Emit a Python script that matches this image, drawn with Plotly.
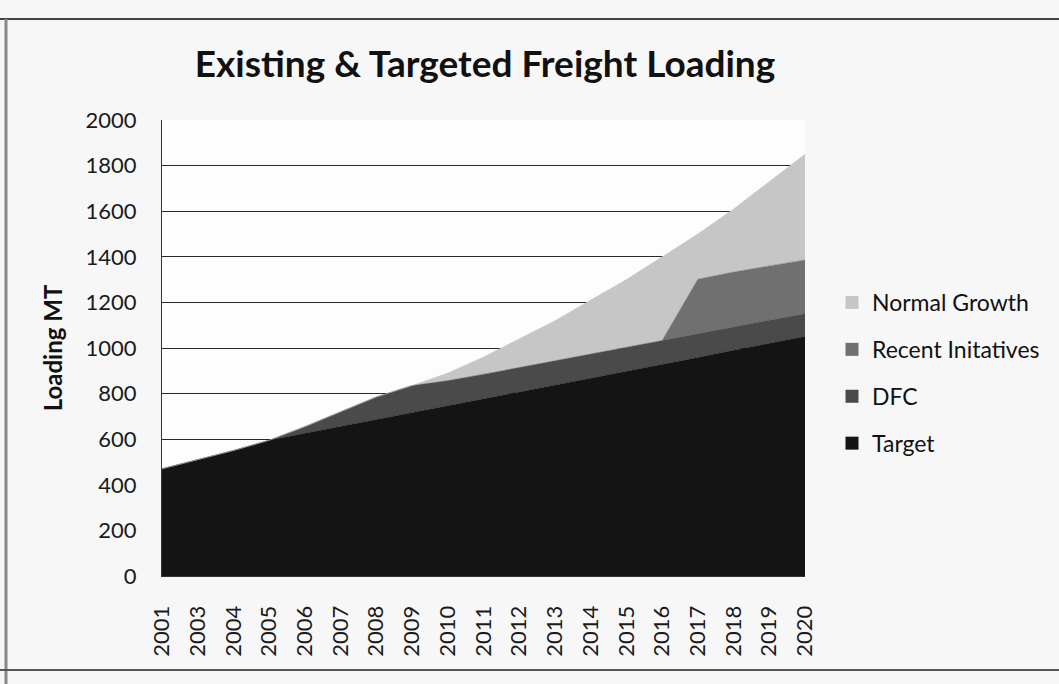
import plotly.graph_objects as go

years = ['2001', '2003', '2004', '2005', '2006', '2007', '2008', '2009', '2010',
         '2011', '2012', '2013', '2014', '2015', '2016', '2017', '2018', '2019', '2020']
target = [470, 510, 550, 595, 625, 655, 685, 715, 745, 775, 805, 838, 868, 898, 928, 958, 990, 1020, 1050]
dfc = [0, 0, 0, 0, 30, 65, 100, 120, 112, 110, 110, 108, 107, 106, 105, 104, 103, 102, 100]
recent = [0, 0, 0, 0, 0, 0, 0, 0, 0, 0, 0, 0, 0, 0, 0, 240, 240, 238, 236]
normal = [0, 0, 0, 0, 0, 0, 0, 0, 33, 75, 125, 174, 235, 296, 367, 198, 277, 370, 464]

series = [
    ('Target', target, '#141414'),
    ('DFC', dfc, '#4a4a4a'),
    ('Recent Initatives', recent, '#707070'),
    ('Normal Growth', normal, '#c6c6c6'),
]

FONT = 'Lato'
fig = go.Figure()
for name, vals, col in series:
    fig.add_trace(go.Scatter(x=years, y=vals, name=name, stackgroup='one', mode='lines',
                             line=dict(width=0.5, color=col), fillcolor=col, showlegend=False,
                             hoverinfo='x+y+name'))
for name, vals, col in reversed(series):
    fig.add_trace(go.Scatter(x=[None], y=[None], name=name, mode='markers', legendgroup=name,
                             marker=dict(symbol='square', size=13, color=col), showlegend=True))

W, H = 1059, 684
L, R, T, B = 162, 805, 120, 576
fig.update_layout(
    width=W, height=H,
    margin=dict(l=L, r=W - R, t=T, b=H - B, pad=0),
    paper_bgcolor='#f7f7f7', plot_bgcolor='#fdfdfd',
    font=dict(family=FONT, color='#1a1a1a'),
    title=dict(text='<b>Existing & Targeted Freight Loading</b>', x=485 / W, xref='container',
               xanchor='center', y=1 - 64 / H, yref='container', yanchor='middle',
               font=dict(size=37, family=FONT, color='#111')),
    showlegend=True,
    legend=dict(x=(832 - L) / (R - L), xanchor='left', y=1 - (281 - T) / (B - T), yanchor='top',
                traceorder='grouped', tracegroupgap=14,
                font=dict(size=23, family=FONT, color='#111'),
                bgcolor='rgba(0,0,0,0)', itemwidth=30),
    xaxis=dict(type='category', range=[0, len(years) - 1], tickangle=-90, showgrid=False,
               tickfont=dict(size=22, family=FONT, color='#1a1a1a'), ticklabelstandoff=20,
               showline=True, linecolor='#333', linewidth=1, ticks=''),
    yaxis=dict(range=[0, 2000], dtick=200, showgrid=True, gridcolor='#2a2a2a', gridwidth=1.3,
               tickfont=dict(size=22, family=FONT, color='#1a1a1a'), ticklabelstandoff=20,
               showline=True, linecolor='#333', linewidth=1.3, zeroline=False,
               title=dict(text='<b>Loading MT</b>', font=dict(size=24, family=FONT, color='#111'),
                          standoff=16)),
)

# outer chart-area frame from the scanned page
fig.add_shape(type='line', xref='paper', yref='paper', x0=-L / (R - L), x1=(W - L) / (R - L),
              y0=1 + (T - 19) / (B - T), y1=1 + (T - 19) / (B - T), line=dict(color='#444', width=2))
fig.add_shape(type='line', xref='paper', yref='paper', x0=(6 - L) / (R - L), x1=(6 - L) / (R - L),
              y0=-(H - B) / (B - T), y1=1 + (T - 19) / (B - T), line=dict(color='#888', width=3))
fig.add_shape(type='line', xref='paper', yref='paper', x0=-L / (R - L), x1=(W - L) / (R - L),
              y0=-(670 - B) / (B - T), y1=-(670 - B) / (B - T), line=dict(color='#555', width=2))

fig.write_html('out.html')
